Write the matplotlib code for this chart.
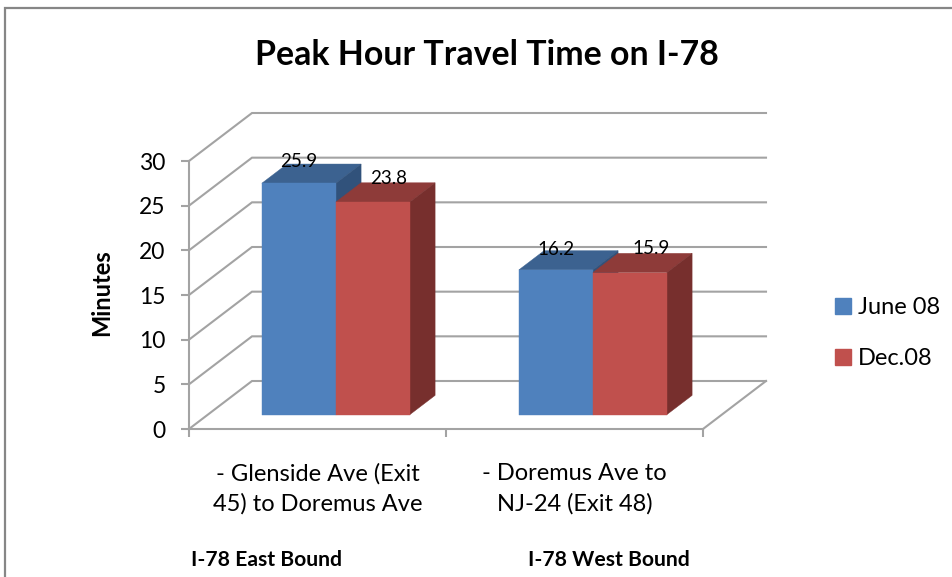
import matplotlib
matplotlib.use('Agg')
import matplotlib.pyplot as plt
import matplotlib.patches as patches

plt.rcParams['font.family'] = ['Lato', 'DejaVu Sans']

categories = ['- Glenside Ave (Exit\n45) to Doremus Ave', '- Doremus Ave to\nNJ-24 (Exit 48)']
groups = ['I-78 East Bound', 'I-78 West Bound']
series_names = ['June 08', 'Dec.08']
june = [25.9, 16.2]
dec = [23.8, 15.9]
yticks = [0, 5, 10, 15, 20, 25, 30]

W, H = 952, 577
x0, x1, y0, y30 = 189, 703, 429, 161   # front plane in pixels
dpx, dpy = 63, 48                      # depth of the 3d box in pixels
ux = (x1 - x0) / 2                     # pixels per category
uy = (y0 - y30) / 30                   # pixels per minute
ddx, ddy = dpx / ux, dpy / uy          # depth in data units

front_cols = ['#4F81BD', '#C0504D']
top_cols = ['#3C6290', '#8E3B39']
side_cols = ['#31527B', '#772F2D']
grid_col = '#A3A3A3'
bar_w = 0.288
d_front, d_back = 0.30, 0.70


def proj(x, y, d):
    return x + d * ddx, y + d * ddy


def box(ax, left, val, i):
    p = lambda x, y, d: proj(x, y, d)
    right = left + bar_w
    quads = [
        ([p(left, val, d_front), p(left, val, d_back), p(right, val, d_back), p(right, val, d_front)], top_cols[i]),
        ([p(right, 0, d_front), p(right, 0, d_back), p(right, val, d_back), p(right, val, d_front)], side_cols[i]),
        ([p(left, 0, d_front), p(right, 0, d_front), p(right, val, d_front), p(left, val, d_front)], front_cols[i]),
    ]
    for pts, c in quads:
        ax.add_patch(patches.Polygon(pts, closed=True, facecolor=c, edgecolor=c, linewidth=0.3, zorder=3 + i))


fig = plt.figure(figsize=(W / 100, H / 100), dpi=100)
fig.patches.append(patches.Rectangle((5 / W, -0.1), 1.1, 1.1 - 8 / H, transform=fig.transFigure,
                                     fill=False, edgecolor='#868686', linewidth=1.6))

ax = fig.add_axes([x0 / W, 1 - y0 / H, (x1 + dpx - x0) / W, (y0 - y30 + dpy) / H])
ax.set_xlim(0, 2 + ddx)
ax.set_ylim(0, 30 + ddy)
ax.patch.set_alpha(0)

# walls of the 3d box
for v in yticks:
    xs = [0, ddx, 2 + ddx]
    ys = [v, v + ddy, v + ddy]
    ax.plot(xs, ys, color=grid_col, linewidth=1.5, clip_on=False, zorder=1, solid_joinstyle='miter')
ax.plot([2, 2 + ddx], [0, ddy], color=grid_col, linewidth=1.5, clip_on=False, zorder=1)

# bars
for g in range(2):
    left = g + 0.21
    box(ax, left, june[g], 0)
    box(ax, left + bar_w, dec[g], 1)

# value labels, hand placed in the original
label_vals = [june[0], dec[0], june[1], dec[1]]
label_x = [0.21 + bar_w / 2, 0.21 + bar_w * 1.5, 1.21 + bar_w / 2, 1.21 + bar_w * 1.5]
label_off = [(0, 15.5), (11.5, 17), (0, 15), (15.5, 17)]
for v, x, off in zip(label_vals, label_x, label_off):
    px, py = proj(x, v, d_front)
    ax.annotate('%.1f' % v, (px, py), xytext=off, textcoords='offset points', ha='center', va='center',
                fontsize=13.5, color='black', zorder=10)

for s in ['top', 'right']:
    ax.spines[s].set_visible(False)
for s in ['left', 'bottom']:
    ax.spines[s].set_color(grid_col)
    ax.spines[s].set_linewidth(1.5)
    ax.spines[s].set_zorder(2)
ax.spines['left'].set_bounds(0, 30)
ax.spines['bottom'].set_bounds(0, 2)

ax.set_yticks(yticks)
ax.tick_params(axis='y', length=5.8, width=1.5, color=grid_col, pad=11, labelsize=16.5)
ax.set_xticks([0, 1, 2])
ax.set_xticklabels([])
ax.set_xticks([0.5, 1.5], minor=True)
ax.set_xticklabels(categories, minor=True, fontsize=17, linespacing=1.5)
ax.tick_params(axis='x', which='major', length=5.8, width=1.5, color=grid_col)
ax.tick_params(axis='x', which='minor', length=0, pad=24.5)

ax.text(0.30, -14.7, groups[0], ha='center', va='center', fontsize=15.2, fontweight='bold')
ax.text(1.634, -14.7, groups[1], ha='center', va='center', fontsize=15.2, fontweight='bold')

fig.text(102 / W, 1 - 293 / H, 'Minutes', rotation=90, ha='center', va='center', fontsize=17, fontweight='bold')
fig.text(487 / W, 1 - 55 / H, 'Peak Hour Travel Time on I-78', ha='center', va='center', fontsize=24.4, fontweight='bold')

handles = [patches.Patch(facecolor=c, edgecolor=c) for c in front_cols]
fig.legend(handles, series_names, loc='center left', bbox_to_anchor=(814 / W, 1 - 333 / H), frameon=False,
           fontsize=17, handlelength=0.65, handleheight=0.65, handletextpad=0.3, labelspacing=1.27)

fig.savefig('out.png', dpi=100)
